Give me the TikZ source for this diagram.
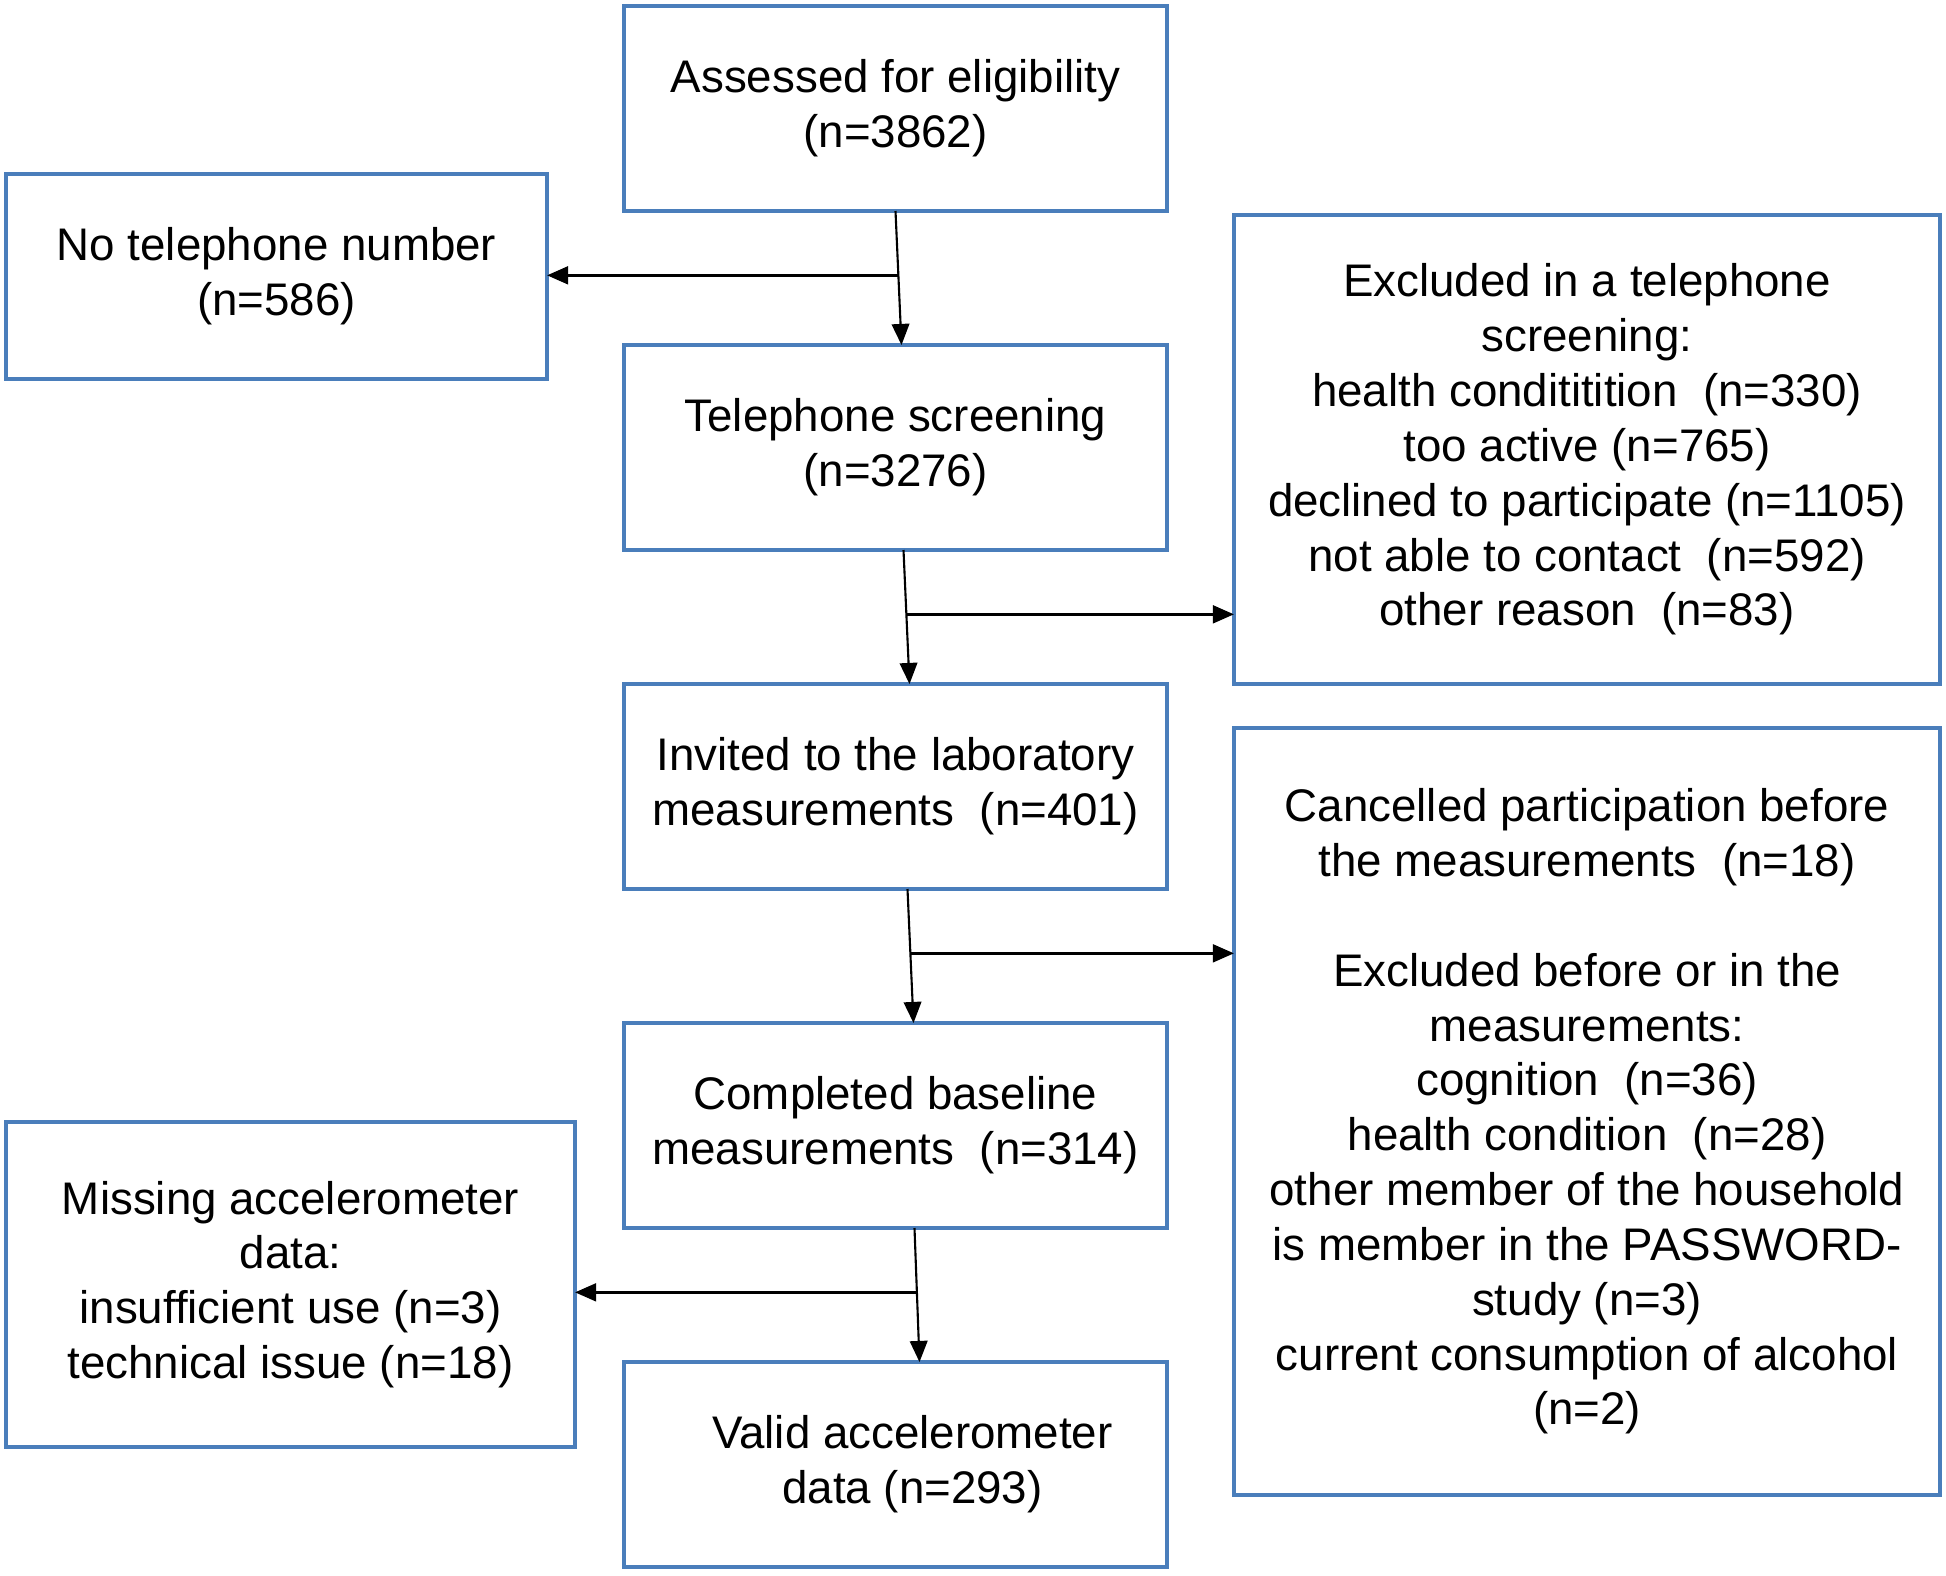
\documentclass[tikz,border=0pt]{standalone}
\usepackage{fontspec}
\setmainfont{Liberation Sans}
\usetikzlibrary{positioning,arrows.meta,calc}
\definecolor{boxblue}{HTML}{4A7EBB}

\begin{document}
\begin{tikzpicture}[
    node distance=1.34cm and 0.67cm,
    every node/.style={font=\fontsize{13}{15.6}\selectfont, align=center},
    stage/.style={draw=boxblue, line width=0.9pt, minimum width=5.43cm, minimum height=2.05cm, inner sep=0pt, outer sep=0pt},
    side/.style={draw=boxblue, line width=0.9pt, inner sep=0pt, outer sep=0pt},
    arrow/.style={-{Triangle[length=6pt,width=5pt]}, line width=0.6pt},
    branch/.style={-{Triangle[length=6pt,width=5pt]}, line width=0.9pt},
  ]
    % Main flow
    \node[stage] (assess) {Assessed for eligibility\\(n=3862)};
    \node[stage, below=of assess] (screen) {Telephone screening\\(n=3276)};
    \node[stage, below=of screen] (invite) {Invited to the laboratory\\measurements\ \ (n=401)};
    \node[stage, below=of invite] (base) {Completed baseline\\measurements\ \ (n=314)};
    \node[stage, below=of base] (valid) {\hspace*{0.34cm}Valid accelerometer\\\hspace*{0.34cm}data (n=293)};

    % Exclusion boxes
    \node[side, minimum width=5.41cm, minimum height=2.05cm, left=0.77cm of assess, yshift=-1.68cm] (notel) {No telephone number\\(n=586)};
    \node[side, minimum width=7.06cm, minimum height=4.69cm, right=of screen, yshift=-0.02cm] (excl) {Excluded in a telephone\\screening:\\health condititition\ \ (n=330)\\too active (n=765)\\declined to participate (n=1105)\\not able to contact\ \ (n=592)\\other reason\ \ (n=83)};
    \node[side, minimum width=7.06cm, minimum height=7.67cm, below=0.44cm of excl] (cancel) {Cancelled participation before\\the measurements\ \ (n=18)\\[15.6pt]Excluded before or in the\\measurements:\\cognition\ \ (n=36)\\health condition\ \ (n=28)\\other member of the household\\is member in the PASSWORD-\\study (n=3)\\current consumption of alcohol\\(n=2)};
    \node[side, minimum width=5.69cm, minimum height=3.25cm, left=0.49cm of base, yshift=-1.59cm] (miss) {Missing accelerometer\\data:\\insufficient use (n=3)\\technical issue (n=18)};

    % Arrows
    \draw[arrow] (assess.south) -- ([xshift=0.06cm]screen.north);
    \draw[arrow] ([xshift=0.08cm]screen.south) -- ([xshift=0.14cm]invite.north);
    \draw[arrow] ([xshift=0.12cm]invite.south) -- ([xshift=0.18cm]base.north);
    \draw[arrow] ([xshift=0.19cm]base.south) -- ([xshift=0.24cm]valid.north);

    % Branches
    \coordinate (b1) at ($(assess.south)!0.48!([xshift=0.06cm]screen.north)$);
    \coordinate (b2) at ($([xshift=0.08cm]screen.south)!0.48!([xshift=0.14cm]invite.north)$);
    \coordinate (b3) at ($([xshift=0.12cm]invite.south)!0.48!([xshift=0.18cm]base.north)$);
    \coordinate (b4) at ($([xshift=0.19cm]base.south)!0.48!([xshift=0.24cm]valid.north)$);
    \draw[branch] (b1) -- (notel.east |- b1);
    \draw[branch] (b2) -- (excl.west |- b2);
    \draw[branch] (b3) -- (cancel.west |- b3);
    \draw[branch] (b4) -- (miss.east |- b4);

    \useasboundingbox ($(notel.west |- assess.north)+(-0.06,0.06)$) rectangle ++(19.46,-15.75);
  \end{tikzpicture}
\end{document}
